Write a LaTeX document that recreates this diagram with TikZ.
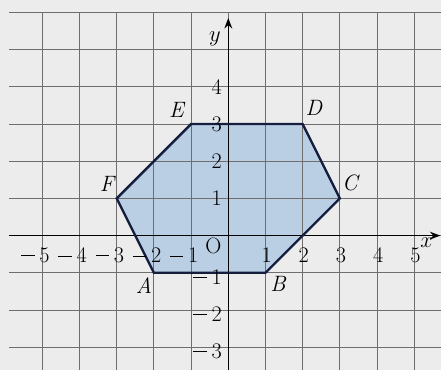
\documentclass[tikz,border=0pt]{standalone}
\usetikzlibrary{arrows.meta}
\definecolor{paper}{RGB}{236,236,236}
\definecolor{gridgray}{RGB}{110,110,110}
\definecolor{hexfill}{RGB}{186,207,228}
\definecolor{edge}{RGB}{22,30,62}
\newcommand{\negsign}{\llap{\rule[0.27em]{0.6em}{0.045em}\hspace{0.22em}}}
\tikzset{
  ticklabel/.style={font=\fontsize{17}{19}\selectfont, inner sep=0pt},
  ptlabel/.style={font=\fontsize{17}{19}\selectfont\itshape, inner sep=0pt},
}
\begin{document}
\begin{tikzpicture}[line width=0.5pt]
  \fill[paper] (-6.137,-3.612) rectangle (5.718,6.334);
  \useasboundingbox (-6.137,-3.612) rectangle (5.718,6.334);
  \coordinate (A) at (-2,-1);
  \coordinate (B) at (1,-1);
  \coordinate (C) at (3,1);
  \coordinate (D) at (2,3);
  \coordinate (E) at (-1,3);
  \coordinate (F) at (-3,1);
  \fill[hexfill] (A) -- (B) -- (C) -- (D) -- (E) -- (F) -- cycle;
  \foreach \i in {-5,...,5} {
    \draw[gridgray, line width=0.7pt] (\i,-3.612) -- (\i,6);
  }
  \foreach \j in {-3,...,6} {
    \draw[gridgray, line width=0.7pt] (-5.9,\j) -- (5.718,\j);
  }
  % axes
  \coordinate (xstart) at (-5.9,0);
  \coordinate (xend) at (5.70,0);
  \coordinate (ystart) at (0,-3.612);
  \coordinate (yend) at (0,5.85);
  \draw[line width=1pt, -{Stealth[length=8pt, width=6pt]}] (xstart) -- (xend);
  \draw[line width=1pt, -{Stealth[length=8pt, width=6pt]}] (ystart) -- (yend);
  \node[ptlabel] (xlab) at (5.33,-0.2) {$x$};
  \node[ptlabel] (ylab) at (-0.36,5.3) {$y$};
  \draw[edge, line width=1.8pt, line join=miter] (A) -- (B) -- (C) -- (D) -- (E) -- (F) -- cycle;
  % ticks
  \foreach \n in {1,...,5} {
    \node[ticklabel] (xp\n) at (\n+0.03,-0.53) {\n};
    \node[ticklabel] (xn\n) at (-\n+0.06,-0.53) {\negsign\n};
  }
  \foreach \n in {1,...,4} {
    \node[ticklabel] (yp\n) at (-0.31,\n) {\n};
  }
  \foreach \n in {1,...,3} {
    \node[ticklabel] (yn\n) at (-0.31,-\n-0.11) {\negsign\n};
  }
  \node[ticklabel] (orig) at (-0.40,-0.27) {O};
  \node[ptlabel] (labA) at (-2.27,-1.33) {A};
  \node[ptlabel] (labB) at (1.34,-1.3) {B};
  \node[ptlabel] (labC) at (3.27,1.41) {C};
  \node[ptlabel] (labD) at (2.3,3.43) {D};
  \node[ptlabel] (labE) at (-1.39,3.38) {E};
  \node[ptlabel] (labF) at (-3.26,1.38) {F};
\end{tikzpicture}
\end{document}
